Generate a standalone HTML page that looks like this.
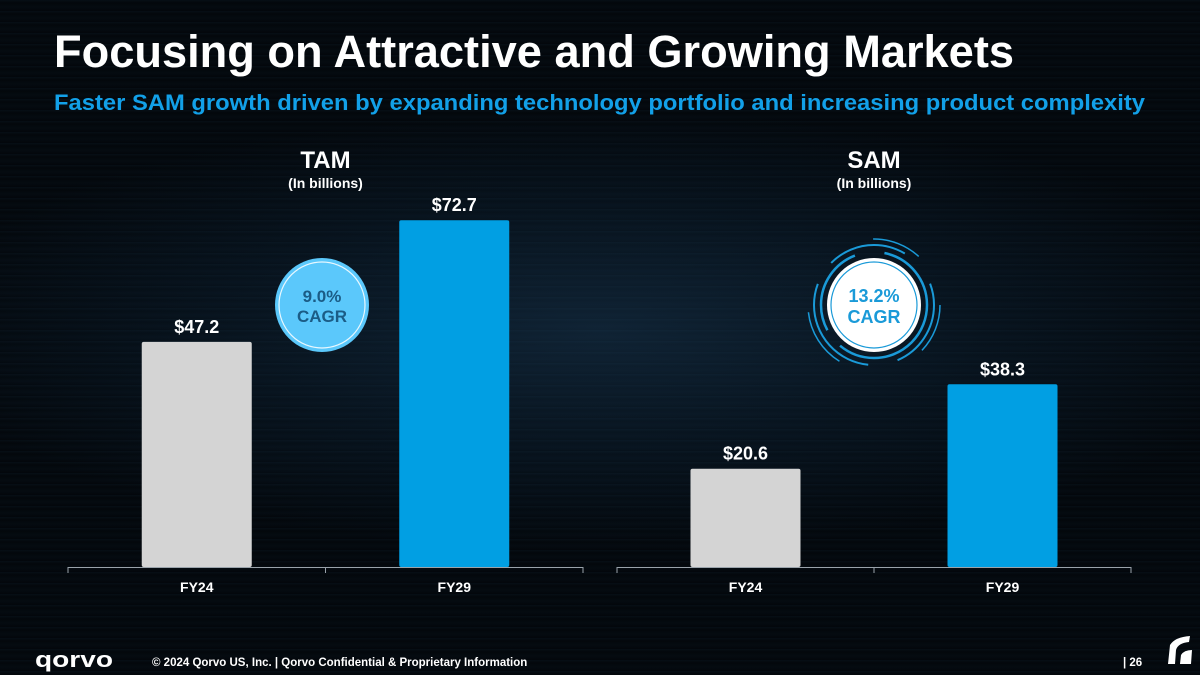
<!DOCTYPE html>
<html><head><meta charset="utf-8"><style>
body{margin:0;width:1200px;height:675px;overflow:hidden;font-family:"Liberation Sans",sans-serif;}
#bg{position:absolute;left:0;top:0;width:1200px;height:675px;background:
repeating-linear-gradient(180deg,rgba(40,80,110,0.10) 0px,rgba(0,0,0,0) 3px,rgba(30,60,90,0.08) 7px,rgba(0,0,0,0) 11px),
radial-gradient(ellipse 700px 220px at 600px 330px,#0f2233 0%,#07121c 55%,#03070b 100%);}
</style></head><body>
<div id="bg"></div>
<svg width="1200" height="675" style="position:absolute;left:0;top:0">
<text x="54" y="67" fill="#fff" font-size="45" font-weight="bold" textLength="960" lengthAdjust="spacingAndGlyphs">Focusing on Attractive and Growing Markets</text>
<text x="54" y="110" fill="#12a0e8" font-size="22" font-weight="bold" textLength="1091" lengthAdjust="spacingAndGlyphs">Faster SAM growth driven by expanding technology portfolio and increasing product complexity</text>
<g id="charts"></g>
<g>
<circle cx="322" cy="305" r="47" fill="#5bc8fb"/>
<circle cx="322" cy="305" r="43" fill="none" stroke="#e8f8ff" stroke-width="1.2"/>
<text x="322" y="302" text-anchor="middle" font-size="17" font-weight="bold" fill="#1b5c86">9.0%</text>
<text x="322" y="322" text-anchor="middle" font-size="17" font-weight="bold" fill="#1b5c86">CAGR</text>
</g>
<g>
<circle cx="874" cy="305" r="47" fill="#fff"/>
<circle cx="874" cy="305" r="43" fill="none" stroke="#1a9ad8" stroke-width="1.2"/>
<circle cx="874" cy="305" r="53" fill="none" stroke="#1a9ad8" stroke-width="2.5" stroke-dasharray="120 20 90 30"/>
<circle cx="874" cy="305" r="60" fill="none" stroke="#1a9ad8" stroke-width="2" stroke-dasharray="70 30 110 25 80 40"/>
<circle cx="874" cy="305" r="66" fill="none" stroke="#1a9ad8" stroke-width="1.5" stroke-dasharray="50 90 60 110"/>
<text x="874" y="302" text-anchor="middle" font-size="18" font-weight="bold" fill="#1a9ad8">13.2%</text>
<text x="874" y="323" text-anchor="middle" font-size="18" font-weight="bold" fill="#1a9ad8">CAGR</text>
</g>
<text x="35" y="667" fill="#fff" font-size="22" font-weight="bold" textLength="78" lengthAdjust="spacingAndGlyphs">qorvo</text>
<text x="152" y="666" fill="#fff" font-size="11.5" font-weight="bold">© 2024 Qorvo US, Inc. | Qorvo Confidential &amp; Proprietary Information</text>
<text x="1123" y="666" fill="#fff" font-size="11.5" font-weight="bold">| 26</text>
<path d="M1168 664 L1170 645 Q1175 637 1190 636 L1189 642 Q1178 643 1176 650 L1175 664 Z M1180 664 L1181 655 Q1184 650 1192 650 L1191 664 Z" fill="#fff"/>
</svg>
<script>
const categories=["FY24","FY29"];
const tamValues=[47.2,72.7];
const samValues=[20.6,38.3];
const tamLabels=["$47.2","$72.7"];
const samLabels=["$20.6","$38.3"];
const ns="http://www.w3.org/2000/svg";
const g=document.getElementById('charts');
const baseY=567, scale=4.77;
function yPos(v){return baseY-v*scale;}
function mk(tag,attrs){const e=document.createElementNS(ns,tag);for(const k in attrs)e.setAttribute(k,attrs[k]);return e;}
function chart(name,x0,x1,values,labels,title){
  const hdr=mk('text',{x:(x0+x1)/2,y:168,'text-anchor':'middle',fill:'#fff','font-size':'24','font-weight':'bold'});
  hdr.textContent=title;
  
  
  g.appendChild(hdr);
  const sub=mk('text',{x:(x0+x1)/2,y:188,'text-anchor':'middle',fill:'#fff','font-size':'14','font-weight':'bold'});
  sub.textContent='(In billions)';
  
  
  g.appendChild(sub);
  const ax=mk('line',{x1:x0,x2:x1,y1:baseY+0.5,y2:baseY+0.5,stroke:'#9aa3ab','stroke-width':1});
  
  
  g.appendChild(ax);
  const bw=(x1-x0)/categories.length;
  for(let i=0;i<=categories.length;i++){
    const t=mk('line',{x1:x0+i*bw,x2:x0+i*bw,y1:baseY,y2:baseY+6,stroke:'#9aa3ab'});
    
    
    g.appendChild(t);
  }
  values.forEach((v,i)=>{
    const cx=x0+bw*(i+0.5);
    const r=mk('rect',{x:cx-55,y:yPos(v),width:110,height:baseY-yPos(v),fill:i===0?'#d4d4d4':'#019fe3',rx:2});
    
    
    g.appendChild(r);
    const l=mk('text',{x:cx,y:yPos(v)-9,'text-anchor':'middle',fill:'#fff','font-size':'18','font-weight':'bold'});
    l.textContent=labels[i];
    
    
    g.appendChild(l);
    const c=mk('text',{x:cx,y:592,'text-anchor':'middle',fill:'#fff','font-size':'14','font-weight':'bold'});
    c.textContent=categories[i];
    
    
    g.appendChild(c);
  });
}
chart('tam',68,583,tamValues,tamLabels,'TAM');
chart('sam',617,1131,samValues,samLabels,'SAM');
</script>
</body></html>
